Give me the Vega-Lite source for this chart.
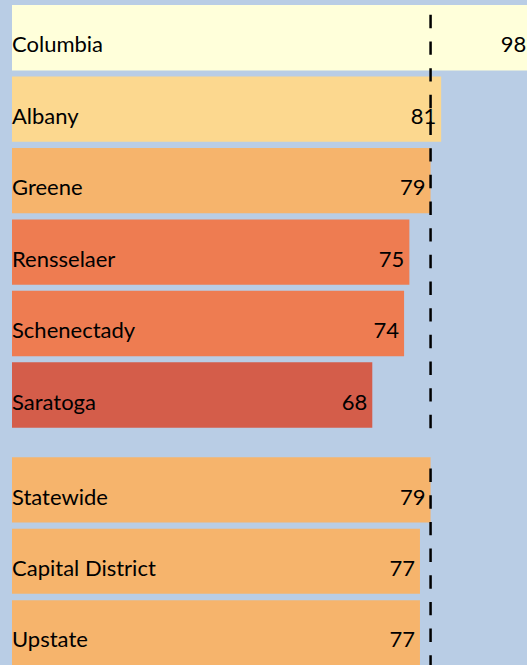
{
  "$schema": "https://vega.github.io/schema/vega-lite/v6.json",
  "background": "#B9CDE5",
  "padding": {"left": 12, "top": 0, "right": 0, "bottom": 0},
  "config": {"view": {"stroke": null}, "text": {"font": "Lato", "fontSize": 22, "color": "#000000"}},
  "datasets": {
    "rates": [
      {"name": "Columbia", "value": 98, "group": "County"},
      {"name": "Albany", "value": 81, "group": "County"},
      {"name": "Greene", "value": 79, "group": "County"},
      {"name": "Rensselaer", "value": 75, "group": "County"},
      {"name": "Schenectady", "value": 74, "group": "County"},
      {"name": "Saratoga", "value": 68, "group": "County"},
      {"name": "Statewide", "value": 79, "group": "Region"},
      {"name": "Capital District", "value": 77, "group": "Region"},
      {"name": "Upstate", "value": 77, "group": "Region"}
    ]
  },
  "vconcat": [
    {
      "width": 515,
      "height": 432.7,
      "data": {"name": "rates"},
      "layer": [
        {
          "transform": [{"filter": "datum.group === 'County'"}],
          "mark": {"type": "bar", "clip": true},
          "encoding": {
            "y": {"field": "name", "type": "nominal", "sort": null, "axis": null, "scale": {"paddingInner": 0.085, "paddingOuter": 0.07, "round": false}},
            "x": {"field": "value", "type": "quantitative", "axis": null, "scale": {"domain": [0, 97.2], "nice": false}},
            "color": {"field": "value", "type": "quantitative", "legend": null, "scale": {"type": "threshold", "domain": [70, 76, 80, 90], "range": ["#D45D4A", "#EE7C51", "#F6B46C", "#FCD88F", "#FFFFDA"]}}
          }
        },
        {
          "transform": [{"filter": "datum.group === 'County'"}],
          "mark": {"type": "text", "align": "left", "baseline": "alphabetic", "dy": 14.7},
          "encoding": {
            "y": {"field": "name", "type": "nominal", "sort": null, "axis": null},
            "x": {"datum": 0, "type": "quantitative"},
            "text": {"field": "name"}
          }
        },
        {
          "transform": [{"filter": "datum.group === 'County'"}],
          "mark": {"type": "text", "align": "right", "baseline": "alphabetic", "dy": 14.7, "dx": -5},
          "encoding": {
            "y": {"field": "name", "type": "nominal", "sort": null, "axis": null},
            "x": {"field": "value", "type": "quantitative"},
            "text": {"field": "value"}
          }
        },
        {
          "transform": [{"filter": "datum.name === 'Statewide'"}],
          "mark": {"type": "rule", "strokeDash": [13.4, 13.27], "strokeWidth": 2.5, "color": "#000000", "yOffset": 14.8, "y2Offset": 22.3},
          "encoding": {"x": {"field": "value", "type": "quantitative"}}
        }
      ]
    },
    {
      "width": 515,
      "height": 212.7,
      "data": {"name": "rates"},
      "layer": [
        {
          "transform": [{"filter": "datum.group === 'Region'"}],
          "mark": {"type": "bar", "clip": true},
          "encoding": {
            "y": {"field": "name", "type": "nominal", "sort": null, "axis": null, "scale": {"paddingInner": 0.09, "paddingOuter": 0.03325, "align": 1, "round": false}},
            "x": {"field": "value", "type": "quantitative", "axis": null, "scale": {"domain": [0, 97.2], "nice": false}},
            "color": {"field": "value", "type": "quantitative", "legend": null, "scale": {"type": "threshold", "domain": [70, 76, 80, 90], "range": ["#D45D4A", "#EE7C51", "#F6B46C", "#FCD88F", "#FFFFDA"]}}
          }
        },
        {
          "transform": [{"filter": "datum.group === 'Region'"}],
          "mark": {"type": "text", "align": "left", "baseline": "alphabetic", "dy": 14.7},
          "encoding": {
            "y": {"field": "name", "type": "nominal", "sort": null, "axis": null},
            "x": {"datum": 0, "type": "quantitative"},
            "text": {"field": "name"}
          }
        },
        {
          "transform": [{"filter": "datum.group === 'Region'"}],
          "mark": {"type": "text", "align": "right", "baseline": "alphabetic", "dy": 14.7, "dx": -5},
          "encoding": {
            "y": {"field": "name", "type": "nominal", "sort": null, "axis": null},
            "x": {"field": "value", "type": "quantitative"},
            "text": {"field": "value"}
          }
        },
        {
          "transform": [{"filter": "datum.name === 'Statewide'"}],
          "mark": {"type": "rule", "strokeDash": [13.4, 13.27], "strokeWidth": 2.5, "color": "#000000", "yOffset": 16.0},
          "encoding": {"x": {"field": "value", "type": "quantitative"}}
        }
      ]
    }
  ],
  "spacing": 19.6,
  "bounds": "flush"
}
